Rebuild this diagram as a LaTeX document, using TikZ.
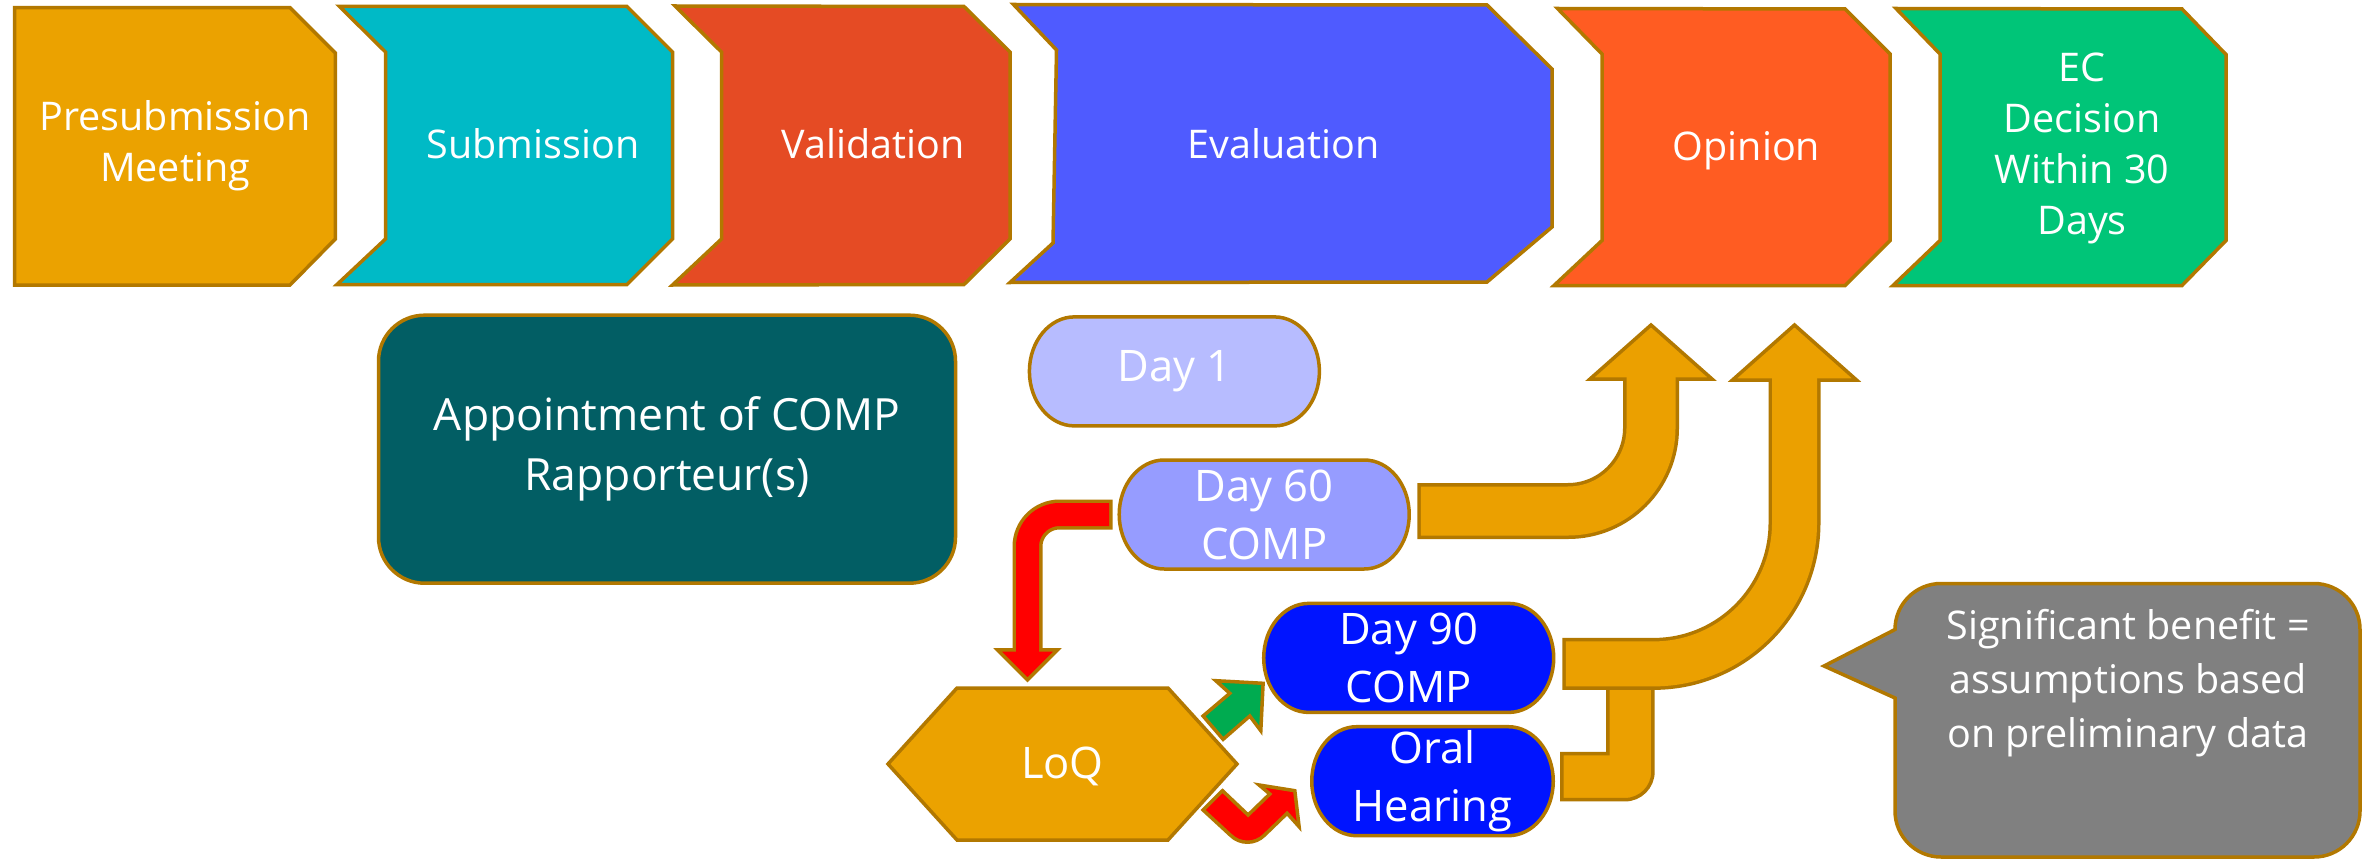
\documentclass[tikz,border=0pt]{standalone}
\usepackage{fontspec}
\setmainfont{Open Sans}
\usetikzlibrary{calc}
\definecolor{bord}{RGB}{178,120,0}
\definecolor{cpre}{RGB}{235,162,0}
\definecolor{csub}{RGB}{0,186,198}
\definecolor{cval}{RGB}{229,75,36}
\definecolor{ceva}{RGB}{79,91,255}
\definecolor{copi}{RGB}{255,92,34}
\definecolor{cec}{RGB}{0,197,120}
\definecolor{capp}{RGB}{2,94,100}
\definecolor{cdone}{RGB}{183,188,255}
\definecolor{cdsix}{RGB}{150,156,255}
\definecolor{cblue}{RGB}{0,20,255}
\definecolor{cred}{RGB}{255,0,0}
\definecolor{cgreen}{RGB}{0,171,80}
\definecolor{cgray}{RGB}{128,128,128}
\definecolor{corange}{RGB}{235,160,0}
\newcommand\fsTop{\fontsize{39.5pt}{51pt}\selectfont}
\newcommand\fsApp{\fontsize{44.4pt}{60pt}\selectfont}
\newcommand\fsDay{\fontsize{43.5pt}{58pt}\selectfont}
\newcommand\fsCall{\fontsize{39.5pt}{54pt}\selectfont}
\tikzset{
  shp/.style={draw=bord, line width=3.5pt, line join=miter, miter limit=10},
  toptext/.style={text=white, align=center, font=\fsTop, inner sep=0pt},
  daytext/.style={text=white, align=center, font=\fsDay, inner sep=0pt},
  calltext/.style={text=white, align=center, font=\fsCall, inner sep=0pt},
  appbox/.style={shp, fill=capp, rounded corners=46pt, text=white, align=center, font=\fsApp, inner sep=0pt},
}
% name, cx, cy, w, h, fill, text
\newcommand\daynode[7]{%
  \draw[shp, fill=#6] ({#2-#4/2+45},{#3-#5/2}) -- ({#2+#4/2-45},{#3-#5/2})
    arc[start angle=-90, end angle=90, x radius=45, y radius=#5/2]
    -- ({#2-#4/2+45},{#3+#5/2})
    arc[start angle=90, end angle=270, x radius=45, y radius=#5/2] -- cycle;
  \node[daytext, minimum width=#4pt, minimum height=#5pt] (#1) at (#2,#3) {#7};}
\begin{document}
\begin{tikzpicture}[x=1pt, y=-1pt]
\useasboundingbox (0,0) rectangle (2379,861);
\fill[white] (0,0) rectangle (2379,861);

% ---- top row stages
\draw[shp, fill=cpre] (14.5,7.7) -- (290,7.7) -- (335.3,53) -- (335.3,239) -- (290,285) -- (14.5,285) -- cycle;
\draw[shp, fill=csub] (339.5,6.5) -- (627,6.5) -- (672.5,52) -- (672.5,239) -- (627,284.5) -- (337,284.5) -- (385.5,239) -- (385.5,52) -- cycle;
\draw[shp, fill=cval] (675,6) -- (964,6.5) -- (1010,52) -- (1010,239) -- (964,284.5) -- (672.5,285) -- (721.5,239) -- (721.5,52) -- cycle;
\draw[shp, fill=ceva] (1013.5,4.5) -- (1487,5) -- (1552,69) -- (1552,227) -- (1487,282) -- (1010,282.5) -- (1053,243) -- (1056.5,50) -- cycle;
\draw[shp, fill=copi] (1557.5,8.5) -- (1845,9) -- (1890,54) -- (1890,240.5) -- (1845,285.5) -- (1554,285.5) -- (1602,240.5) -- (1602,54) -- cycle;
\draw[shp, fill=cec] (1896,8.5) -- (2182,9) -- (2226,54.5) -- (2226,240.5) -- (2182,285.5) -- (1893,285.5) -- (1940,240.5) -- (1940,54) -- cycle;

\node[toptext] (pre) at (175,146) {Presubmission\\Meeting};
\node[toptext] (sub) at (533,144) {Submission};
\node[toptext] (val) at (873,144) {Validation};
\node[toptext] (eva) at (1283.5,144) {Evaluation};
\node[toptext] (opi) at (1746.5,151) {Opinion};
\node[toptext] (ec) at (2082,148) {EC\\Decision\\Within 30\\Days};

% ---- appointment box
\node[appbox, minimum width=577pt, minimum height=268pt] (app) at (667,449.2) {Appointment of COMP\\Rapporteur(s)};

% ---- day nodes
\daynode{d1}{1174.4}{371.4}{290}{109}{cdone}{Day 1}
\daynode{d60}{1264.2}{514.5}{290}{109}{cdsix}{Day 60\\COMP}
\daynode{d90}{1408.7}{657.9}{290}{109}{cblue}{Day 90\\COMP}
\daynode{oral}{1432.5}{781.2}{241.5}{109}{cblue}{Oral\\Hearing}

% ---- LoQ hexagon
\draw[shp, fill=cpre] (888,764) -- (957,688) -- (1168,688) -- (1237,764) -- (1168,840) -- (957,840) -- cycle;
\node[daytext, minimum width=349pt, minimum height=152pt] (loq) at (1062.5,766) {LoQ};

% ---- callout
\draw[shp, fill=cgray] (1895,629.5) -- (1824,666) -- (1895,698) -- (1895,811)
  arc[start angle=180, end angle=90, radius=46] -- (2314,857)
  arc[start angle=90, end angle=0, radius=46] -- (2360,629.5)
  arc[start angle=0, end angle=-90, radius=46] -- (1941,583.5)
  arc[start angle=-90, end angle=-180, radius=46] -- cycle;
\node[calltext] (call) at (2128,683) {Significant benefit =\\assumptions based\\on preliminary data};

% ---- red bent arrow Day 60 -> LoQ
\coordinate (r1s) at ($(d60.west)+(-6.5,0)$);
\coordinate (r1t) at ($(loq.north)+(-35,-10)$);
\coordinate (r1h) at ($(r1t)+(0,-30)$);
\draw[draw=bord, line width=30pt, rounded corners=32pt] (r1s) -| (r1h);
\draw[shp, fill=cred] ($(r1h)+(-30,0)$) -- (r1t) -- ($(r1h)+(30,0)$) -- cycle;
\draw[draw=cred, line width=23pt, rounded corners=32pt, shorten <=3.5pt, shorten >=-4pt] (r1s) -| (r1h);

% ---- orange arrow Day 60 -> Opinion
\coordinate (a1s) at ($(d60.east)+(8,-3.5)$);
\coordinate (a1t) at (1651,325);
\coordinate (a1h) at ($(a1t)+(0,54)$);
\draw[draw=bord, line width=56pt, rounded corners=83pt] (a1s) -| (a1h);
\draw[shp, fill=corange] ($(a1h)+(-61,0)$) -- (a1t) -- ($(a1h)+(61,0)$) -- cycle;
\draw[draw=corange, line width=49pt, rounded corners=83pt, shorten <=3.5pt, shorten >=-4pt] (a1s) -| (a1h);

% ---- orange elbow Oral Hearing -> joins arrow 2
\coordinate (el) at ($(oral.east)+(8.5,-4.5)$);
\draw[shp, fill=corange] (el) ++(0,-23) -- ++(46,0) -- ++(0,-79) -- ++(45,0) -- ++(0,97)
  arc[start angle=0, end angle=90, radius=28] -- ++(-63,0) -- cycle;

% ---- orange arrow Day 90 -> Opinion
\coordinate (a2s) at ($(d90.east)+(8.5,6)$);
\coordinate (a2t) at (1794.5,325);
\coordinate (a2h) at ($(a2t)+(0,55)$);
\draw[draw=bord, line width=52pt, rounded corners=141pt] (a2s) -| (a2h);
\draw[shp, fill=corange] ($(a2h)+(-62,0)$) -- (a2t) -- ($(a2h)+(62,0)$) -- cycle;
\draw[draw=corange, line width=45pt, rounded corners=141pt, shorten <=3.5pt, shorten >=-4pt] (a2s) -| (a2h);

% ---- green arrow LoQ -> Day 90
\coordinate (gt) at ($(d90.west)+(-0.4,25.4)$);
\begin{scope}[shift={(gt)}]
\draw[shp, fill=cgreen] (0,0) -- (-47.3,-2.6) -- (-33.3,10) -- (-60,32.7) -- (-40,56) -- (-13.3,32.7) -- (-2.3,47.4) -- cycle;
\end{scope}

% ---- red small arrow LoQ -> Oral Hearing
\coordinate (rt) at ($(oral.west)+(-16.75,9.5)$);
\begin{scope}[shift={(rt)}]
\draw[shp, fill=cred] (-91.7,19.3) -- (-72.3,0) -- (-46.7,24.3) -- (-25,3.3) -- (-35.7,-5.7) -- (0,0) -- (4.3,36) -- (-7.7,22.6) -- (-30.4,44.5)
  arc[start angle=45, end angle=135, radius=24] -- cycle;
\end{scope}
\end{tikzpicture}
\end{document}
